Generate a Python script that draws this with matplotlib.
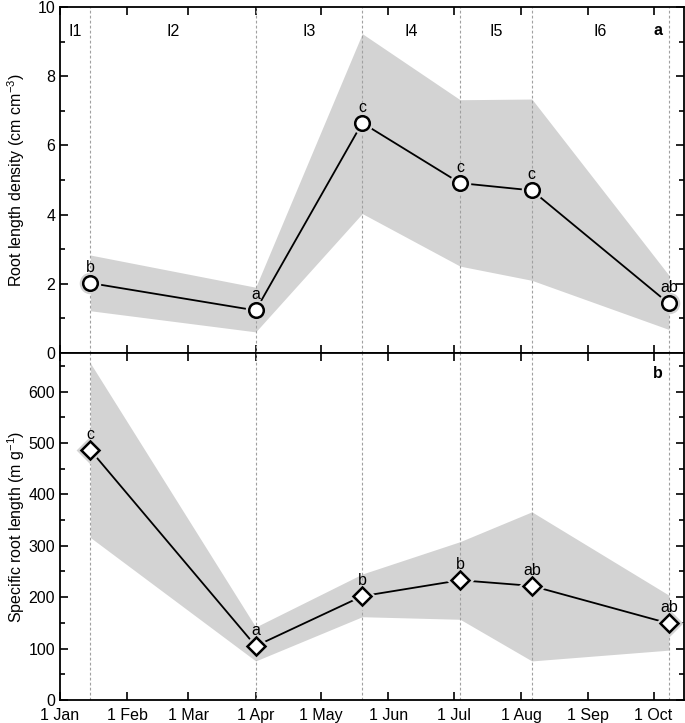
import datetime as dt
import numpy as np
import matplotlib
matplotlib.use("Agg")
import matplotlib.pyplot as plt
import matplotlib.dates as mdates
from matplotlib.ticker import MultipleLocator, FuncFormatter

plt.rcParams['font.family'] = ['Liberation Sans', 'DejaVu Sans']
plt.rcParams['font.size'] = 11.5

# sampling dates
dates = [dt.datetime(2015, 1, 15), dt.datetime(2015, 4, 1), dt.datetime(2015, 5, 20),
         dt.datetime(2015, 7, 4), dt.datetime(2015, 8, 6), dt.datetime(2015, 10, 8)]

# root length density (cm cm-3)
rld = [2.02, 1.23, 6.65, 4.91, 4.70, 1.43]
rld_hi = [2.83, 1.90, 9.23, 7.32, 7.34, 2.25]
rld_lo = [1.22, 0.61, 4.03, 2.51, 2.10, 0.68]
rld_letters = ["b", "a", "c", "c", "c", "ab"]

# specific root length (m g-1)
srl = [486, 105, 202, 233, 222, 149]
srl_hi = [655, 142, 245, 308, 366, 204]
srl_lo = [316, 76, 162, 157, 76, 97]
srl_letters = ["c", "a", "b", "b", "ab", "ab"]

# interval labels
intervals = ["I1", "I2", "I3", "I4", "I5", "I6"]
interval_bounds = [dt.datetime(2015, 1, 1)] + dates

band_col = "#d3d3d3"

fig = plt.figure(figsize=(6.85, 7.23), dpi=100)
ax1 = fig.add_axes([0.0876, 0.5118, 0.911, 0.4785])
ax2 = fig.add_axes([0.0876, 0.0318, 0.911, 0.48])


def draw_panel(ax, y, lo, hi, letters, marker, ms):
    ax.fill_between(dates, lo, hi, color=band_col, linewidth=0, zorder=1)
    for d in dates:
        ax.axvline(d, color="#a0a0a0", linestyle=(0, (2.5, 2)), linewidth=0.8, zorder=2)
    ax.plot(dates, y, color="black", linewidth=1.3, zorder=3)
    # halo to leave a gap between line and marker
    ax.plot(dates, y, linestyle="none", marker=marker, ms=ms, mfc=band_col,
            mec=band_col, mew=5, zorder=4)
    ax.plot(dates, y, linestyle="none", marker=marker, ms=ms, mfc="white",
            mec="black", mew=1.8, zorder=5)
    for d, v, t in zip(dates, y, letters):
        ax.annotate(t, (d, v), xytext=(0, 6), textcoords="offset points",
                    ha="center", va="bottom", fontsize=11.5, zorder=6)


draw_panel(ax1, rld, rld_lo, rld_hi, rld_letters, "o", 10.5)
draw_panel(ax2, srl, srl_lo, srl_hi, srl_letters, "D", 9)

xmin, xmax = dt.datetime(2015, 1, 1), dt.datetime(2015, 10, 15)
for ax in (ax1, ax2):
    ax.set_xlim(xmin, xmax)
    ax.xaxis.set_major_locator(mdates.MonthLocator(bymonth=range(1, 11)))
    ax.xaxis.set_major_formatter(
        FuncFormatter(lambda x, pos: "%d %s" % (mdates.num2date(x).day,
                                                 mdates.num2date(x).strftime("%b"))))
    ax.tick_params(which="both", direction="in", top=True, right=True, width=1.2)
    ax.tick_params(which="major", length=6)
    ax.tick_params(which="minor", length=3.5)
    ax.tick_params(axis="x", which="minor", top=False, bottom=False)
    ax.tick_params(axis="x", pad=6)
    for s in ax.spines.values():
        s.set_linewidth(1.3)

ax1.set_ylim(0, 10)
ax1.yaxis.set_major_locator(MultipleLocator(2))
ax1.yaxis.set_minor_locator(MultipleLocator(1))
ax1.tick_params(axis="x", labelbottom=False)
ax1.set_ylabel(r"Root length density (cm cm$\mathregular{^{-3}}$)")

ax2.set_ylim(0, 675)
ax2.yaxis.set_major_locator(MultipleLocator(100))
ax2.yaxis.set_minor_locator(MultipleLocator(50))
ax2.set_ylabel(r"Specific root length (m g$\mathregular{^{-1}}$)")

# interval labels centred between sampling dates
for name, a, b in zip(intervals, interval_bounds[:-1], interval_bounds[1:]):
    mid = a + (b - a) / 2
    ax1.text(mid, 9.3, name, ha="center", va="center", fontsize=11.5)

ax1.text(0.958, 0.932, "a", transform=ax1.transAxes, ha="center", va="center",
         fontweight="bold", fontsize=11.5)
ax2.text(0.958, 0.94, "b", transform=ax2.transAxes, ha="center", va="center",
         fontweight="bold", fontsize=11.5)

ax1.yaxis.set_label_coords(-0.053, 0.5)
ax2.yaxis.set_label_coords(-0.053, 0.5)

fig.savefig("out.png", dpi=100)
